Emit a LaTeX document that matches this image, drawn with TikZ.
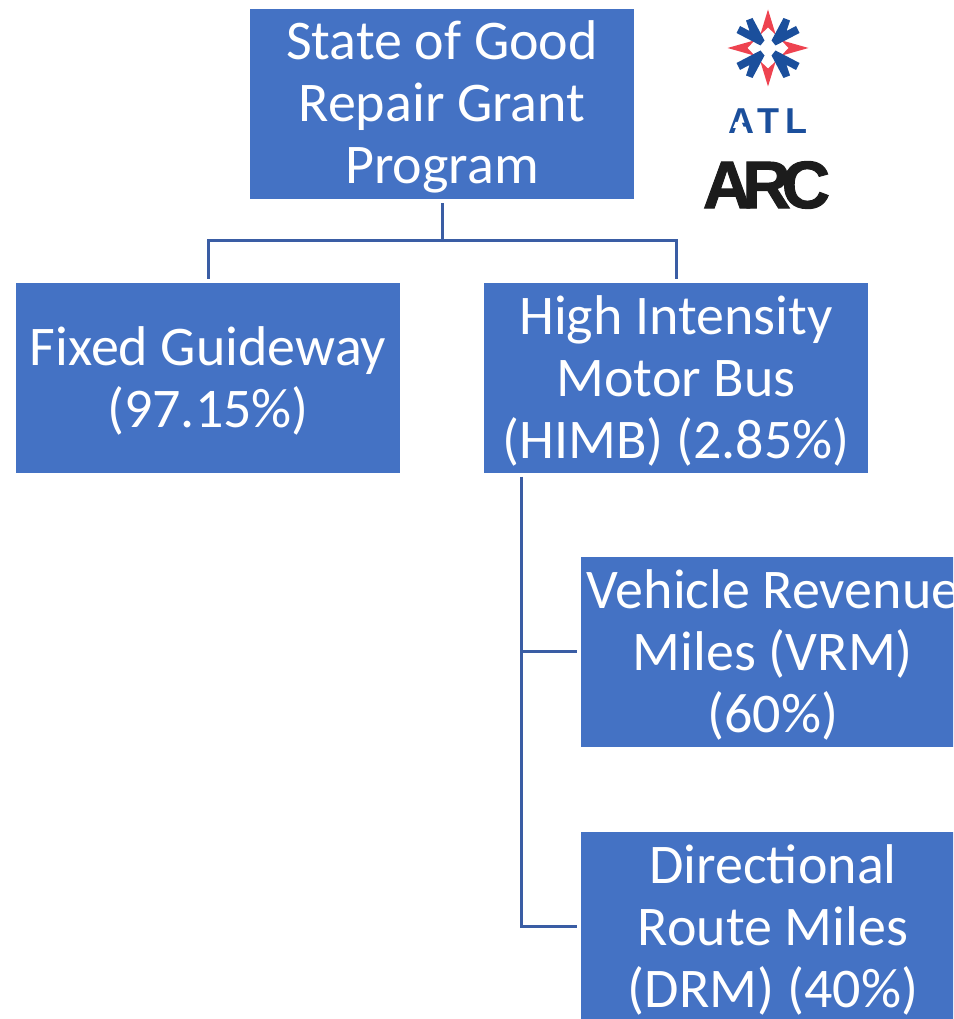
\documentclass[tikz,border=0pt]{standalone}
\usepackage{fontspec}
\setmainfont{Carlito}
\newfontfamily\logofont{Liberation Sans}
\definecolor{boxblue}{HTML}{4472C4}
\definecolor{linkblue}{HTML}{3A5DA4}
\definecolor{logored}{HTML}{EE4350}
\definecolor{logoblue}{HTML}{1B4F9C}
\definecolor{logoblack}{HTML}{1C1C1C}
\tikzset{
	grantbox/.style={fill=boxblue,text=white,minimum width=384pt,minimum height=190pt,text width=384pt,align=flush center,inner sep=0pt,font=\fontsize{56}{62}\selectfont,execute at begin node=\rule{0pt}{45pt}},
	link/.style={draw=linkblue,line width=3pt,shorten <=4pt,shorten >=4pt},
	redpoint/.style={fill=logored},
	bluearm/.style={fill=logoblue},
}
\begin{document}
\begin{tikzpicture}[x=1pt,y=1pt]
	\useasboundingbox (0,0) rectangle (953,1019);
	\clip (0,0) rectangle (953,1019);
	% boxes
	\node[grantbox] (program) at (442,915) {State of Good\\Repair Grant\\Program};
	\node[grantbox] (guideway) at (208,641) {Fixed Guideway\\(97.15\%)};
	\node[grantbox] (himb) at (676,641) {High Intensity\\Motor Bus\\(HIMB) (2.85\%)};
	\node[grantbox] (vrm) at (773,367) {Vehicle Revenue\\Miles (VRM)\\(60\%)};
	\node[grantbox] (drm) at (773,92) {Directional\\Route Miles\\(DRM) (40\%)};
	% connectors
	\coordinate (split) at (442,778);
	\coordinate (busdrop) at (521,546);
	\draw[link,shorten >=0pt] (program.south) -- (split);
	\draw[link] (guideway.north) |- (split) -| (himb.north);
	\draw[link] (busdrop) |- (vrm.west);
	\draw[link] (busdrop) |- (drm.west);
	% logo star
	\begin{scope}[shift={(768,971)}]
		\foreach \a/\r in {0/38.5,90/40.5,180/38.5,270/40.5}
			\fill[redpoint,rotate=\a] (0,\r) -- (7.7,13.3) -- (0,20.5) -- (-7.7,13.3) -- cycle;
		\foreach \sx/\sy in {1/1,-1/1,1/-1,-1/-1}
			\fill[bluearm,xscale=\sx,yscale=\sy] (3.5,7.5) -- (7.5,2.5) -- (31.5,15) -- (28,22) -- (18.5,17) -- (22,27.5) -- (15.5,30) -- cycle;
	\end{scope}
	\node[font=\logofont\bfseries\fontsize{36}{36}\selectfont,text=logoblue,inner sep=0pt] (atl) at (768,898) {\addfontfeature{LetterSpace=16}ATL};
	\fill[white] (733,891) -- (744,891) -- (741.5,897) -- (735.5,897) -- cycle;
	\node[font=\logofont\bfseries\fontsize{67}{67}\selectfont,text=logoblack,inner sep=0pt] (arc) at (766.5,834) {\addfontfeature{FakeBold=1.5}A\kern-9pt R\kern-9pt C};
\end{tikzpicture}
\end{document}
